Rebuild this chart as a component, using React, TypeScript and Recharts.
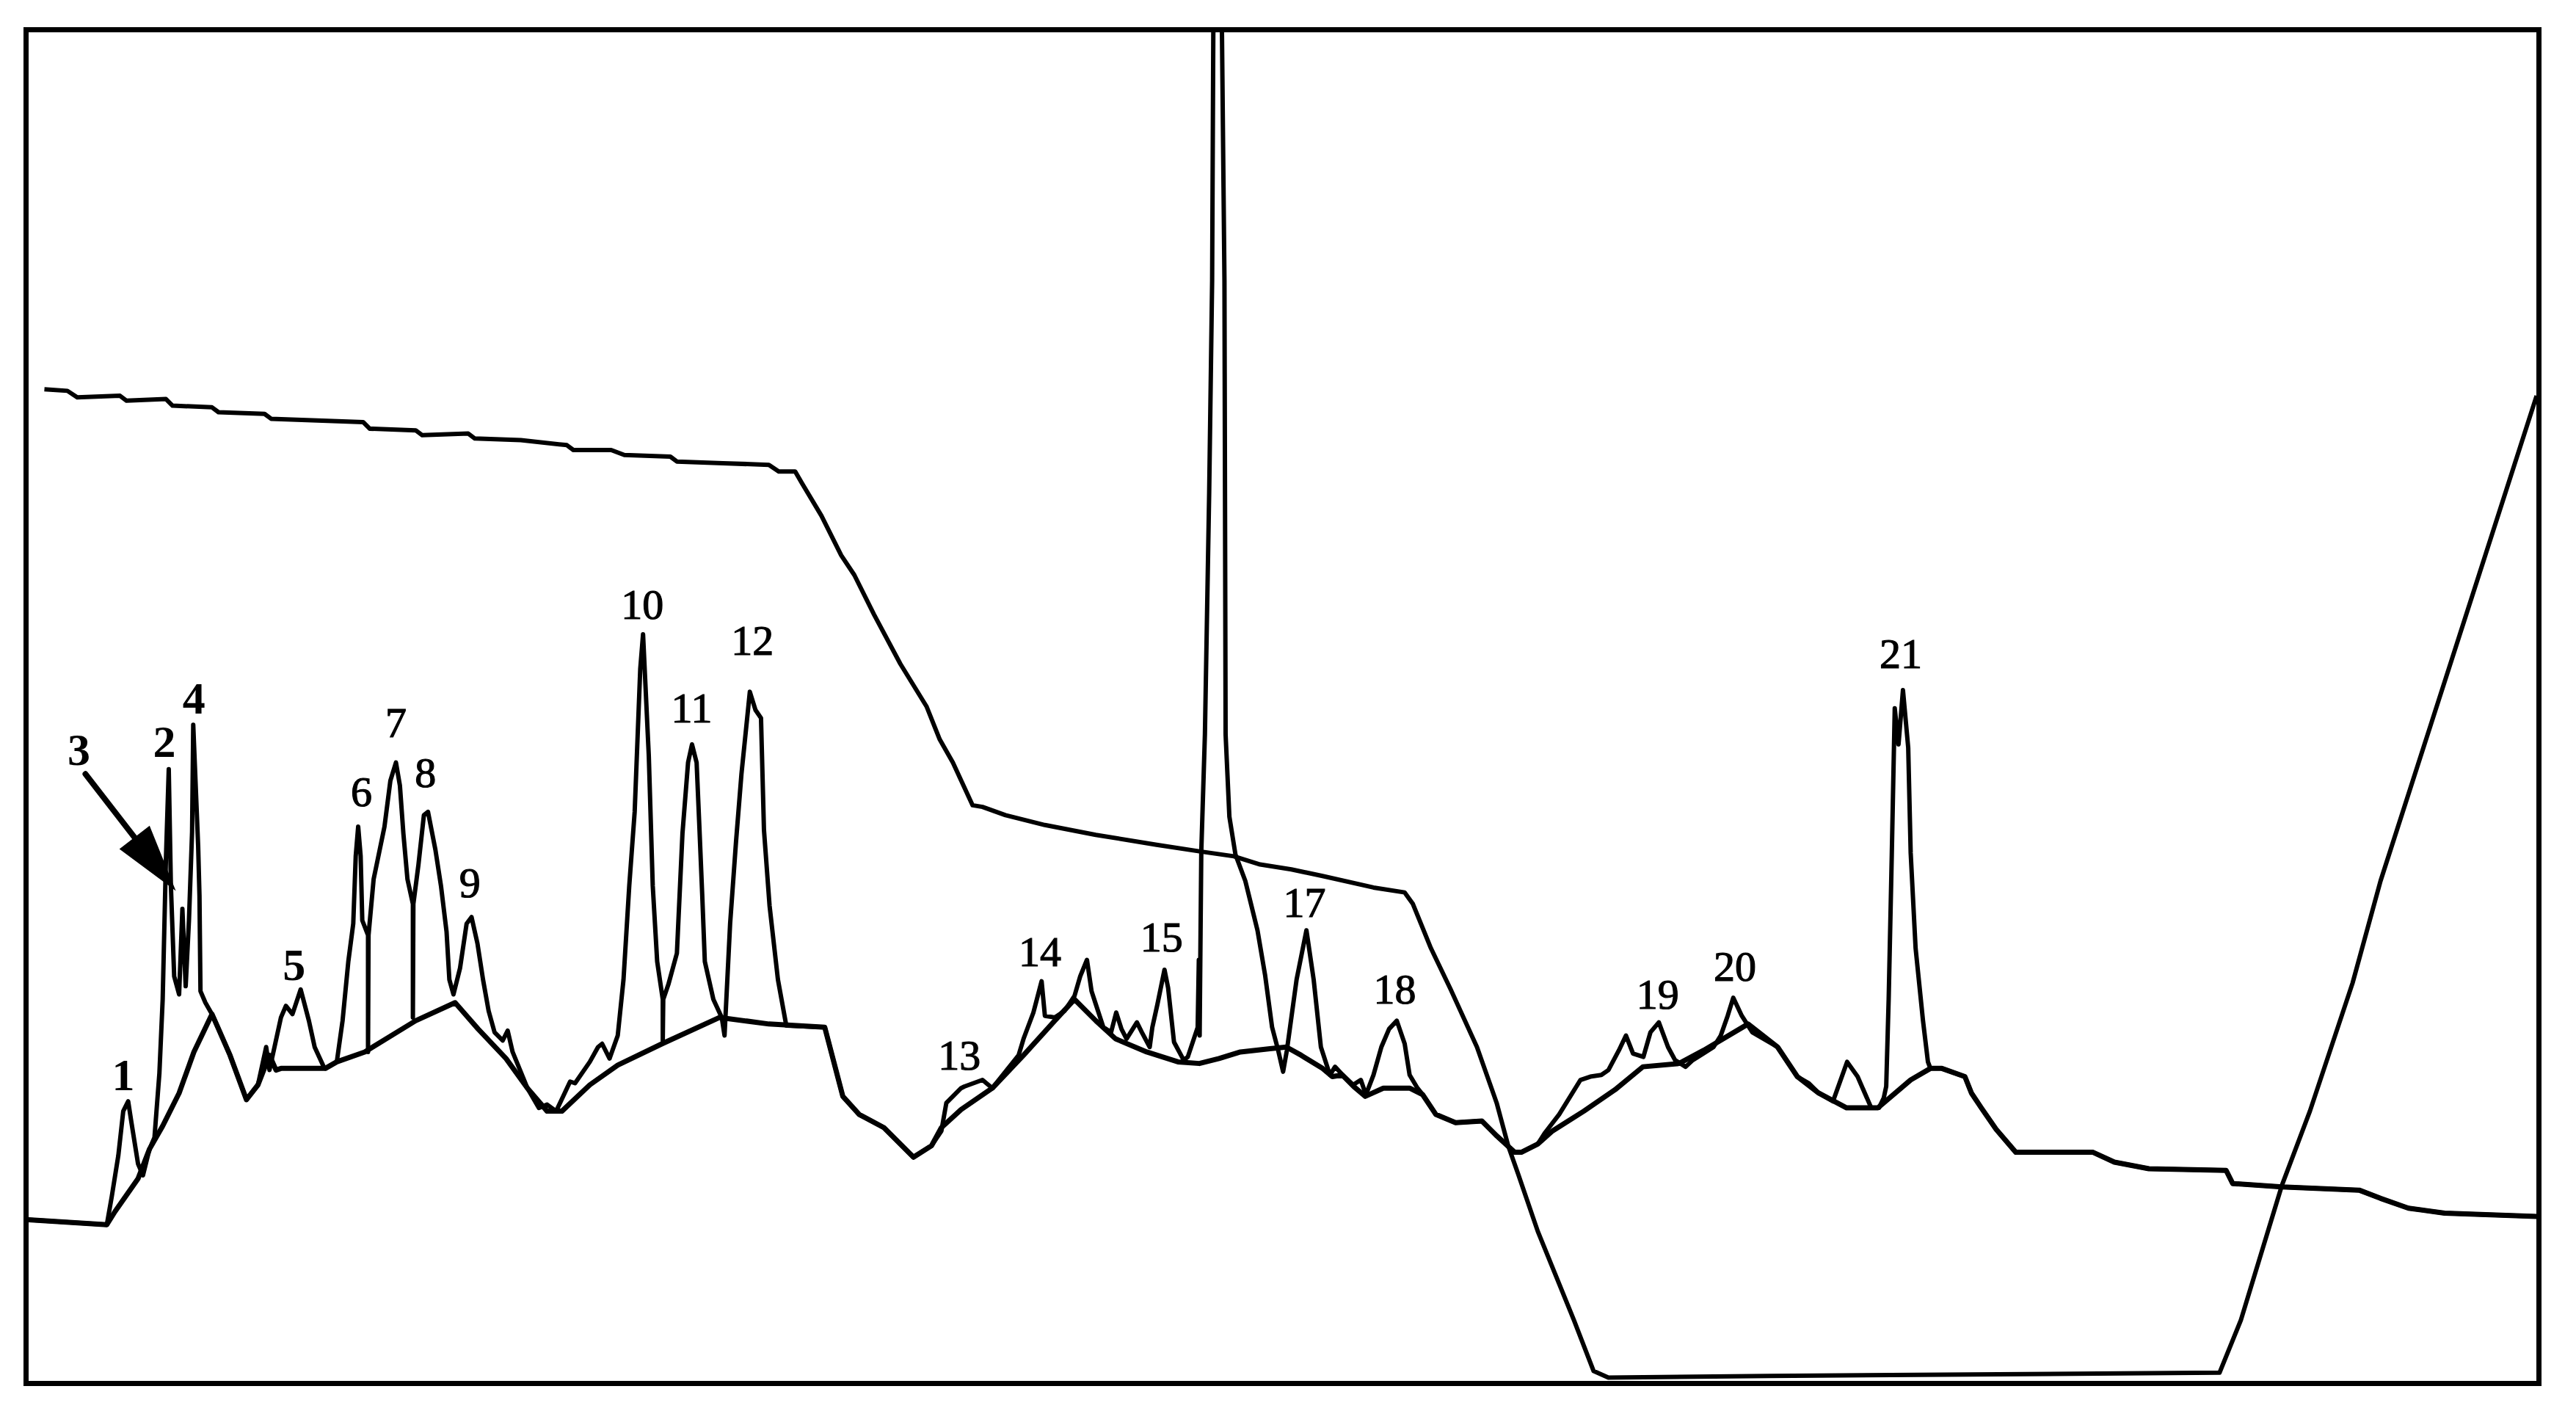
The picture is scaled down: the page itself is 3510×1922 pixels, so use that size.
import { ComposedChart, Line, Scatter, XAxis, YAxis, ReferenceLine } from "recharts";

// time axis in chart units (left edge of frame ~17, right edge ~1544), signal in arbitrary units
const gradientTrace = [
  [27, 603], [41, 602], [47, 598], [73, 599], [77, 596], [101, 597], [105, 593], [129, 592],
  [133, 589], [161, 588], [165, 585], [193, 584], [221, 583], [225, 579], [253, 578], [257, 575],
  [285, 576], [289, 573], [317, 572], [345, 569], [349, 566], [372, 566], [380, 563], [408, 562],
  [412, 559], [440, 558], [468, 557], [474, 553], [484, 553], [488, 546], [500, 526], [512, 502],
  [520, 490], [532, 466], [548, 436], [564, 410], [572, 390], [580, 376], [592, 350], [598, 349],
  [612, 344], [636, 338], [667, 332], [704, 326], [730, 322], [751, 319], [767, 314], [786, 311],
  [805, 307], [836, 300], [855, 297], [860, 290], [871, 263], [883, 238], [899, 203], [911, 169],
  [918, 143], [924, 126], [936, 91], [958, 37], [970, 6], [979, 2], [1077, 3], [1351, 5],
  [1364, 37], [1389, 119], [1406, 164], [1432, 242], [1449, 304], [1544, 599],
];

const blankTrace = [
  [17, 98], [65, 95], [70, 103], [84, 123], [91, 141], [99, 155], [109, 175], [118, 200],
  [129, 223], [133, 214], [140, 198], [150, 171], [157, 180], [164, 198], [168, 189], [171, 190],
  [198, 190], [205, 194], [222, 200], [253, 219], [277, 230], [291, 214], [308, 196], [321, 178],
  [333, 164], [342, 164], [359, 180], [376, 192], [403, 205], [438, 221], [468, 217], [502, 215],
  [513, 173], [523, 162], [538, 154], [556, 136], [567, 143], [573, 154], [585, 165], [604, 178],
  [623, 198], [642, 219], [654, 232], [667, 219], [679, 208], [698, 200], [717, 194], [730, 193],
  [742, 196], [755, 200], [773, 202], [783, 203], [792, 198], [805, 190], [811, 185], [817, 186],
  [824, 179], [831, 173], [842, 178], [858, 178], [866, 174], [874, 162], [886, 157], [902, 158],
  [911, 149], [922, 139], [926, 139], [936, 144], [945, 152], [964, 164], [983, 177], [1000, 191],
  [1022, 193], [1037, 201], [1064, 217], [1082, 203], [1094, 185], [1107, 175], [1124, 166],
  [1143, 166], [1163, 183], [1175, 190], [1182, 190], [1196, 185], [1200, 175], [1206, 166],
  [1215, 153], [1227, 139], [1274, 139], [1287, 133], [1308, 129], [1355, 128], [1359, 120],
  [1389, 118], [1436, 116], [1449, 111], [1466, 105], [1488, 102], [1544, 100],
];

const sampleTrace = [
  [17, 98], [65, 95], [68, 112], [72, 137], [75, 164], [78, 170], [80, 157], [84, 132], [87, 125],
  [91, 141], [94, 148], [97, 187], [99, 232], [101, 318], [102.7, 372], [104, 301], [106, 246],
  [109, 235], [111, 287], [113, 240], [115, 280], [116.9, 334], [117.6, 399], [120.6, 325],
  [121.4, 295], [122, 237], [125, 230], [129, 223], [133, 214], [140, 198], [150, 171], [157, 180],
  [162, 203], [164, 189], [171, 221], [174, 228], [178, 223], [183, 238], [188, 219], [191.5, 203],
  [197, 191], [198, 190], [205, 194], [208.5, 219], [212, 255], [215, 278], [216.5, 319], [218, 337],
  [219.5, 319], [220.5, 280], [224, 271], [224, 200], [224.3, 271], [227.4, 305], [234, 337],
  [237.6, 365], [241, 376], [243.4, 362], [245.5, 333], [248, 305], [251.3, 290], [251.3, 221],
  [251.6, 290], [254.7, 314], [258, 344], [260.5, 346], [265, 323], [268.4, 301], [271.8, 273],
  [273.5, 244], [276, 235], [280, 251], [284, 278], [287, 282], [290.6, 266], [294, 244],
  [297.4, 225], [301, 212], [306, 207], [309, 213], [312, 200], [321, 178], [328, 166], [333, 168],
  [338.5, 164], [347, 182], [350, 181], [359, 194], [364, 203], [366.5, 205], [371, 196], [376, 210],
  [379.5, 244], [383, 301], [386.3, 346], [389.7, 433], [391.4, 454], [394.9, 380], [397.3, 301],
  [400, 255], [403.4, 232], [403.4, 207], [403.7, 232], [406.8, 241], [412, 260], [415.4, 333],
  [418.8, 376], [421.2, 387], [424, 376], [425.6, 339], [427.4, 296], [429, 255], [434.2, 232],
  [439.3, 221], [441, 210], [444.4, 278], [448, 328], [451.3, 369], [456.4, 419], [459.8, 408],
  [463.2, 403], [465, 335], [468.4, 289], [473.5, 244], [478.6, 216], [502, 215], [513, 173],
  [523, 162], [538, 154], [556, 136], [567, 143], [573, 152], [576, 169], [585, 178], [587, 179],
  [598, 183], [604, 178], [620, 198], [623, 208], [629, 224], [634, 243], [636, 222], [642, 221],
  [648, 225], [654, 234], [657.5, 246], [661.6, 256], [664.4, 237], [667, 229], [671.6, 215],
  [676.3, 212], [679.4, 224], [682.6, 214], [685.7, 208], [692, 218], [695, 212], [699.8, 203],
  [701.4, 215], [704.5, 229], [708.8, 250], [711, 239], [714.6, 206], [720.5, 195], [723, 197],
  [729, 215], [729.7, 256], [730.2, 210], [730.6, 256], [731.2, 322], [733.4, 393], [736, 540],
  [737.8, 669], [738.5, 818], [741, 1040], [743.8, 818], [745.3, 669], [746, 393], [748.3, 343],
  [752, 320], [758, 304], [765.4, 274], [770, 247], [774.3, 215], [778, 201], [781, 188],
  [783.3, 201], [789.2, 244], [795.2, 274], [799.6, 244], [804, 203], [809.5, 186], [812.6, 191],
  [817.3, 186], [823.6, 180], [828.3, 183], [831.4, 174], [836, 186], [840.8, 203], [845.5, 214],
  [850.2, 219], [855, 205], [858, 186], [862.8, 178], [866, 174], [874, 162], [886, 157], [902, 158],
  [911, 149], [922, 139], [926, 139], [936, 144], [940.5, 151], [949, 162], [962, 183], [968, 185],
  [974.7, 186], [979, 189], [985.4, 201], [989.7, 210], [994, 199], [1000.3, 197], [1004.6, 212],
  [1009.7, 218], [1015.3, 203], [1019.6, 195], [1026, 191], [1030.3, 195], [1036.7, 199],
  [1043, 203], [1047.4, 210], [1051.6, 222], [1055, 233], [1060.2, 222], [1066.6, 212], [1082, 203],
  [1094, 185], [1101, 181], [1107, 175], [1115.7, 170], [1124.3, 194], [1130.7, 185], [1139, 166],
  [1143.7, 166], [1146.6, 172], [1148.1, 179], [1149.6, 232], [1151.5, 320], [1153.3, 409],
  [1155.6, 387], [1158.3, 420], [1161.5, 385], [1163, 321], [1166, 263], [1170.5, 219],
  [1173.5, 194], [1175, 190], [1182, 190], [1196, 185], [1200, 175], [1206, 166], [1215, 153],
  [1227, 139], [1274, 139], [1287, 133], [1308, 129], [1355, 128], [1359, 120], [1389, 118],
  [1436, 116], [1449, 111], [1466, 105], [1488, 102], [1544, 100],
];

const peakNames = ["1", "2", "3", "4", "5", "6", "7", "8", "9", "10", "11", "12", "13", "14", "15", "17", "18", "19", "20", "21"];
const peakLabelT = [75, 100, 48, 118, 179, 220, 241, 259, 286, 391, 421, 458, 584, 633, 707, 794, 849, 1009, 1056, 1157];
const peakLabelV = [186, 389, 384, 415, 253, 358, 400, 370, 303, 472, 409, 450, 198, 261, 270, 291, 238, 235, 252, 442];
const boldPeaks = ["1", "2", "3", "4", "5"];

// arrow pointing at peak 3
const arrowFrom = { x: 52, y: 369 };
const arrowTo = { x: 107, y: 298 };

const toPoints = (rows: number[][]) => rows.map(([t, v]) => ({ t, v }));

const labelData = peakNames.map((name, i) => ({
  t: peakLabelT[i],
  v: peakLabelV[i],
  name,
  bold: boldPeaks.includes(name),
}));

const PeakLabel = (props: any) => {
  const { cx, cy, payload } = props;
  return (
    <text
      x={cx}
      y={cy}
      textAnchor="middle"
      dominantBaseline="central"
      fontFamily="'Liberation Serif', 'DejaVu Serif', serif"
      fontSize={payload.bold ? 62 : 58}
      fontWeight={payload.bold ? 700 : 400}
      fill="#000"
      stroke="#000"
      strokeWidth={payload.bold ? 0 : 1.2}
    >
      {payload.name}
    </text>
  );
};

const ArrowShape = (props: any) => {
  const { x1, y1, x2, y2 } = props;
  const dx = x2 - x1;
  const dy = y2 - y1;
  const len = Math.sqrt(dx * dx + dy * dy) || 1;
  const ux = dx / len;
  const uy = dy / len;
  const headLen = 92;
  const halfW = 26;
  const bx = x2 - ux * headLen;
  const by = y2 - uy * headLen;
  const pts = [
    [x2, y2],
    [bx - uy * halfW, by + ux * halfW],
    [bx + uy * halfW, by - ux * halfW],
  ]
    .map((p) => p.join(","))
    .join(" ");
  return (
    <g>
      <line x1={x1} y1={y1} x2={bx} y2={by} stroke="#000" strokeWidth={8} strokeLinecap="round" />
      <polygon points={pts} fill="#000" />
    </g>
  );
};

export default function App() {
  return (
    <div style={{ position: "absolute", left: 0, top: 0, width: 3510, height: 1922, background: "#fff" }}>
      <ComposedChart
        width={3510}
        height={1922}
        margin={{ top: 44, right: 53, bottom: 41, left: 39 }}
      >
        <XAxis dataKey="t" type="number" domain={[17.4, 1544.3]} allowDataOverflow hide />
        <YAxis type="number" domain={[0, 820]} allowDataOverflow hide />
        <Line
          data={toPoints(gradientTrace)}
          dataKey="v"
          type="linear"
          stroke="#000"
          strokeWidth={6}
          strokeLinejoin="round"
          dot={false}
          isAnimationActive={false}
        />
        <Line
          data={toPoints(blankTrace)}
          dataKey="v"
          type="linear"
          stroke="#000"
          strokeWidth={7}
          strokeLinejoin="round"
          dot={false}
          isAnimationActive={false}
        />
        <Line
          data={toPoints(sampleTrace)}
          dataKey="v"
          type="linear"
          stroke="#000"
          strokeWidth={6}
          strokeLinejoin="round"
          dot={false}
          isAnimationActive={false}
        />
        <ReferenceLine segment={[arrowFrom, arrowTo]} shape={ArrowShape} />
        <Scatter data={labelData} dataKey="v" shape={PeakLabel} isAnimationActive={false} />
      </ComposedChart>
      <div
        style={{
          position: "absolute",
          left: 32,
          top: 37,
          width: 3431,
          height: 1851,
          border: "7px solid #000",
          boxSizing: "border-box",
          pointerEvents: "none",
        }}
      />
    </div>
  );
}
